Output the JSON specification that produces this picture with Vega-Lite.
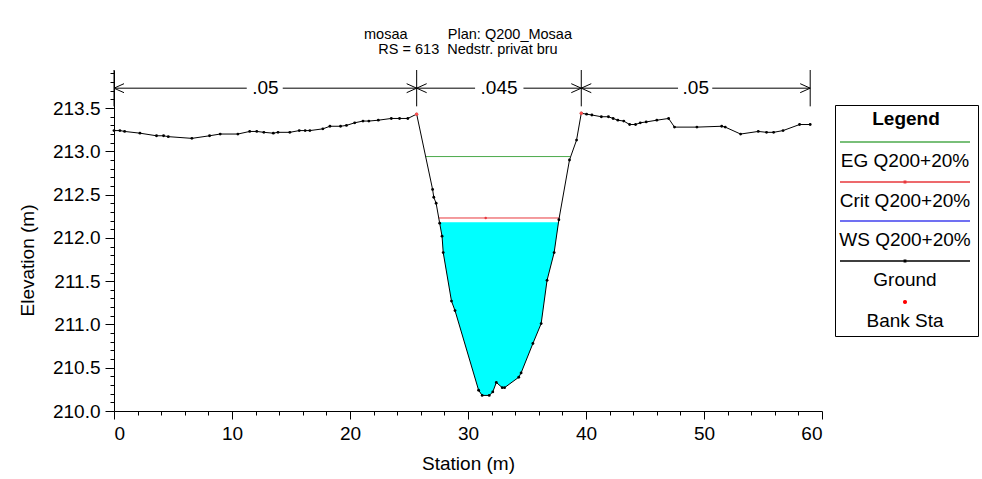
{
  "$schema": "https://vega.github.io/schema/vega-lite/v6.json",
  "width": 708,
  "height": 341,
  "autosize": {"type": "none"},
  "padding": {"left": 114, "top": 70, "right": 160, "bottom": 68},
  "background": "white",
  "config": {
    "font": "Liberation Sans",
    "view": {"stroke": null},
    "axis": {"grid": false, "domainColor": "black", "tickColor": "black", "labelColor": "black", "titleColor": "black", "labelFontSize": 19, "titleFontSize": 19, "titleFontWeight": "normal", "labelFont": "Liberation Sans", "titleFont": "Liberation Sans"}
  },
  "title": {
    "text": "mosaa\u00a0\u00a0\u00a0\u00a0\u00a0\u00a0\u00a0\u00a0\u00a0\u00a0Plan: Q200_Mosaa",
    "subtitle": "RS = 613\u00a0\u00a0Nedstr. privat bru",
    "anchor": "middle",
    "font": "Liberation Sans",
    "subtitleFont": "Liberation Sans",
    "fontSize": 14.5,
    "subtitleFontSize": 14.5,
    "fontWeight": "normal",
    "color": "black",
    "subtitleColor": "black",
    "subtitlePadding": 1,
    "offset": 12
  },
  "datasets": {
    "ground": [
      {"station": 0, "elev": 213.24}, {"station": 0.5, "elev": 213.24}, {"station": 0.9, "elev": 213.23},
      {"station": 2.2, "elev": 213.21}, {"station": 3.6, "elev": 213.18}, {"station": 4.2, "elev": 213.18},
      {"station": 4.6, "elev": 213.17}, {"station": 6.6, "elev": 213.15}, {"station": 8.1, "elev": 213.18},
      {"station": 9.0, "elev": 213.2}, {"station": 10.5, "elev": 213.2}, {"station": 11.5, "elev": 213.23},
      {"station": 12.1, "elev": 213.23}, {"station": 12.7, "elev": 213.22}, {"station": 13.5, "elev": 213.21},
      {"station": 13.9, "elev": 213.22}, {"station": 14.9, "elev": 213.22}, {"station": 15.7, "elev": 213.24},
      {"station": 16.2, "elev": 213.24}, {"station": 16.6, "elev": 213.24}, {"station": 17.7, "elev": 213.26},
      {"station": 18.3, "elev": 213.29}, {"station": 19.2, "elev": 213.29}, {"station": 19.7, "elev": 213.3},
      {"station": 20.4, "elev": 213.33}, {"station": 21.1, "elev": 213.35}, {"station": 21.6, "elev": 213.35},
      {"station": 22.4, "elev": 213.36}, {"station": 23.5, "elev": 213.38}, {"station": 24.2, "elev": 213.38},
      {"station": 24.9, "elev": 213.38}, {"station": 25.65, "elev": 213.43}, {"station": 27.0, "elev": 212.56},
      {"station": 27.1, "elev": 212.47}, {"station": 27.3, "elev": 212.4}, {"station": 27.6, "elev": 212.17},
      {"station": 27.8, "elev": 212.02}, {"station": 27.9, "elev": 211.83}, {"station": 28.6, "elev": 211.27},
      {"station": 28.9, "elev": 211.16}, {"station": 30.9, "elev": 210.24}, {"station": 31.2, "elev": 210.18},
      {"station": 31.8, "elev": 210.18}, {"station": 32.1, "elev": 210.22}, {"station": 32.4, "elev": 210.33},
      {"station": 32.9, "elev": 210.27}, {"station": 33.1, "elev": 210.27}, {"station": 34.3, "elev": 210.39},
      {"station": 34.5, "elev": 210.44}, {"station": 35.5, "elev": 210.78}, {"station": 36.2, "elev": 211.01},
      {"station": 36.7, "elev": 211.51}, {"station": 37.3, "elev": 211.83}, {"station": 37.7, "elev": 212.21},
      {"station": 38.6, "elev": 212.9}, {"station": 39.2, "elev": 213.13}, {"station": 39.6, "elev": 213.44},
      {"station": 40.05, "elev": 213.43}, {"station": 40.5, "elev": 213.42}, {"station": 41.3, "elev": 213.4},
      {"station": 41.9, "elev": 213.4}, {"station": 42.3, "elev": 213.38}, {"station": 42.7, "elev": 213.36},
      {"station": 43.2, "elev": 213.35}, {"station": 43.7, "elev": 213.31}, {"station": 44.2, "elev": 213.31},
      {"station": 44.6, "elev": 213.33}, {"station": 45.1, "elev": 213.34}, {"station": 46.0, "elev": 213.36},
      {"station": 47.0, "elev": 213.38}, {"station": 47.5, "elev": 213.28}, {"station": 49.4, "elev": 213.28},
      {"station": 51.5, "elev": 213.29}, {"station": 51.8, "elev": 213.28}, {"station": 53.1, "elev": 213.2},
      {"station": 54.6, "elev": 213.23}, {"station": 55.3, "elev": 213.22}, {"station": 55.9, "elev": 213.22},
      {"station": 56.7, "elev": 213.24}, {"station": 58.1, "elev": 213.31}, {"station": 59.0, "elev": 213.31}
    ],
    "water": [
      {"station": 27.59, "elev": 212.18}, {"station": 27.8, "elev": 212.02}, {"station": 27.9, "elev": 211.83},
      {"station": 28.6, "elev": 211.27}, {"station": 28.9, "elev": 211.16}, {"station": 30.9, "elev": 210.24},
      {"station": 31.2, "elev": 210.18}, {"station": 31.8, "elev": 210.18}, {"station": 32.1, "elev": 210.22},
      {"station": 32.4, "elev": 210.33}, {"station": 32.9, "elev": 210.27}, {"station": 33.1, "elev": 210.27},
      {"station": 34.3, "elev": 210.39}, {"station": 34.5, "elev": 210.44}, {"station": 35.5, "elev": 210.78},
      {"station": 36.2, "elev": 211.01}, {"station": 36.7, "elev": 211.51}, {"station": 37.3, "elev": 211.83},
      {"station": 37.68, "elev": 212.18}
    ],
    "levels": [
      {"series": "EG Q200+20%", "station": 26.42, "elev": 212.94},
      {"series": "EG Q200+20%", "station": 38.66, "elev": 212.94},
      {"series": "Crit Q200+20%", "station": 27.52, "elev": 212.23},
      {"series": "Crit Q200+20%", "station": 37.72, "elev": 212.23}
    ],
    "bank": [
      {"station": 25.65, "elev": 213.43},
      {"station": 39.6, "elev": 213.44}
    ],
    "critdot": [
      {"station": 31.5, "elev": 212.23}
    ],
    "nseg": [
      {"x1": 0, "x2": 11.25}, {"x1": 14.3, "x2": 25.65},
      {"x1": 25.65, "x2": 30.6}, {"x1": 34.7, "x2": 39.6},
      {"x1": 39.6, "x2": 47.8}, {"x1": 50.7, "x2": 59.0}
    ],
    "nbounds": [
      {"station": 0}, {"station": 25.65}, {"station": 39.6}, {"station": 59.0}
    ],
    "arrows": [
      {"station": 0, "dir": "left"}, {"station": 25.65, "dir": "right"},
      {"station": 25.65, "dir": "left"}, {"station": 39.6, "dir": "right"},
      {"station": 39.6, "dir": "left"}, {"station": 59.0, "dir": "right"}
    ],
    "nlabels": [
      {"station": 12.83, "label": ".05"},
      {"station": 32.63, "label": ".045"},
      {"station": 49.3, "label": ".05"}
    ]
  },
  "layer": [
    {
      "layer": [
        {
          "data": {"name": "water"},
          "mark": {"type": "area", "color": "#00FFFF", "opacity": 1},
          "encoding": {
            "x": {"field": "station", "type": "quantitative",
              "scale": {"domain": [0, 60], "nice": false, "zero": false},
              "axis": {"orient": "bottom", "title": "Station (m)", "values": [0, 10, 20, 30, 40, 50, 60], "tickSize": 8, "labelPadding": 5, "titleY": 43}},
            "y": {"field": "elev", "type": "quantitative",
              "scale": {"domain": [210, 213.94], "nice": false, "zero": false},
              "axis": {"orient": "left", "title": "Elevation (m)", "values": [210, 210.5, 211, 211.5, 212, 212.5, 213, 213.5], "format": ".1f", "tickSize": 9, "labelPadding": 5, "titleX": -77, "titleY": 190}},
            "y2": {"datum": 212.18}
          }
        },
        {
          "data": {"name": "levels"},
          "mark": {"type": "line", "strokeWidth": 1},
          "encoding": {
            "x": {"field": "station", "type": "quantitative"},
            "y": {"field": "elev", "type": "quantitative"},
            "color": {"field": "series", "type": "nominal",
              "scale": {"domain": ["EG Q200+20%", "Crit Q200+20%", "WS Q200+20%", "Ground", "Bank Sta"],
                        "range": ["#4caa4c", "#e8383d", "#4040ee", "#000000", "#ff0000"]},
              "legend": {
                "orient": "none", "legendX": 721, "legendY": 35, "direction": "vertical",
                "title": "Legend", "titleFontSize": 19, "titleFontWeight": "bold", "titleAnchor": "middle", "titlePadding": 13, "titleColor": "black",
                "labelFontSize": 19, "labelColor": "black", "labelLimit": 300,
                "symbolType": "stroke", "symbolSize": 16900, "symbolStrokeWidth": 1.3,
                "strokeColor": "black", "fillColor": "white", "padding": 5, "rowPadding": 7,
                "encode": {
                  "symbols": {"update": {
                    "x": {"value": 65}, "y": {"value": 0},
                    "shape": {"signal": "datum.value === 'Bank Sta' ? 'circle' : (datum.value === 'Ground' || datum.value === 'Crit Q200+20%') ? 'M-1,0H1M-0.012,-0.012H0.012V0.012H-0.012Z' : 'stroke'"},
                    "size": {"signal": "datum.value === 'Bank Sta' ? 8 : 16900"},
                    "fill": {"signal": "datum.value === 'Bank Sta' ? '#ff0000' : 'transparent'"},
                    "stroke": {"signal": "datum.value === 'Bank Sta' ? 'transparent' : scale('color', datum.value)"}
                  }},
                  "labels": {"update": {
                    "x": {"value": 65}, "y": {"value": 19},
                    "align": {"value": "center"}, "baseline": {"value": "middle"}
                  }}
                }
              }}
          }
        },
        {
          "data": {"name": "ground"},
          "mark": {"type": "line", "color": "black", "strokeWidth": 1},
          "encoding": {
            "x": {"field": "station", "type": "quantitative"},
            "y": {"field": "elev", "type": "quantitative"}
          }
        },
        {
          "data": {"name": "ground"},
          "mark": {"type": "point", "filled": true, "color": "black", "size": 8, "opacity": 1},
          "encoding": {
            "x": {"field": "station", "type": "quantitative"},
            "y": {"field": "elev", "type": "quantitative"}
          }
        },
        {
          "data": {"name": "bank"},
          "mark": {"type": "point", "filled": true, "color": "#ff5050", "size": 12, "opacity": 1},
          "encoding": {
            "x": {"field": "station", "type": "quantitative"},
            "y": {"field": "elev", "type": "quantitative"}
          }
        },
        {
          "data": {"name": "critdot"},
          "mark": {"type": "point", "filled": true, "color": "#e8383d", "size": 6, "opacity": 1},
          "encoding": {
            "x": {"field": "station", "type": "quantitative"},
            "y": {"field": "elev", "type": "quantitative"}
          }
        },
        {
          "data": {"name": "nseg"},
          "mark": {"type": "rule", "color": "black", "strokeWidth": 1},
          "encoding": {
            "x": {"field": "x1", "type": "quantitative"},
            "x2": {"field": "x2"},
            "y": {"datum": 213.73, "type": "quantitative"}
          }
        },
        {
          "data": {"name": "nbounds"},
          "mark": {"type": "rule", "color": "black", "strokeWidth": 1},
          "encoding": {
            "x": {"field": "station", "type": "quantitative"},
            "y": {"datum": 213.94, "type": "quantitative"},
            "y2": {"datum": 213.52}
          }
        },
        {
          "data": {"name": "arrows"},
          "transform": [{"filter": "datum.dir === 'left'"}],
          "mark": {"type": "point", "shape": "M0,0L2,-0.9M0,0L2,0.9", "filled": false, "color": "black", "strokeWidth": 1, "size": 100, "opacity": 1},
          "encoding": {
            "x": {"field": "station", "type": "quantitative"},
            "y": {"datum": 213.73, "type": "quantitative"}
          }
        },
        {
          "data": {"name": "arrows"},
          "transform": [{"filter": "datum.dir === 'right'"}],
          "mark": {"type": "point", "shape": "M0,0L-2,-0.9M0,0L-2,0.9", "filled": false, "color": "black", "strokeWidth": 1, "size": 100, "opacity": 1},
          "encoding": {
            "x": {"field": "station", "type": "quantitative"},
            "y": {"datum": 213.73, "type": "quantitative"}
          }
        },
        {
          "data": {"name": "nlabels"},
          "mark": {"type": "text", "fontSize": 19, "color": "black", "baseline": "middle", "align": "center"},
          "encoding": {
            "x": {"field": "station", "type": "quantitative"},
            "y": {"datum": 213.73, "type": "quantitative"},
            "text": {"field": "label"}
          }
        }
      ]
    },
    {
      "data": {"name": "ground"},
      "mark": {"type": "point", "opacity": 0},
      "encoding": {
        "x": {"field": "station", "type": "quantitative",
          "axis": {"orient": "bottom", "title": null, "labels": false, "domain": false, "tickSize": 4,
            "values": [2, 4, 6, 8, 12, 14, 16, 18, 22, 24, 26, 28, 32, 34, 36, 38, 42, 44, 46, 48, 52, 54, 56, 58]}},
        "y": {"field": "elev", "type": "quantitative",
          "axis": {"orient": "left", "title": null, "labels": false, "domain": false, "tickSize": 4,
            "values": [210.1, 210.2, 210.3, 210.4, 210.6, 210.7, 210.8, 210.9, 211.1, 211.2, 211.3, 211.4, 211.6, 211.7, 211.8, 211.9, 212.1, 212.2, 212.3, 212.4, 212.6, 212.7, 212.8, 212.9, 213.1, 213.2, 213.3, 213.4, 213.6, 213.7, 213.8, 213.9]}}
      }
    }
  ],
  "resolve": {"axis": {"x": "independent", "y": "independent"}}
}
